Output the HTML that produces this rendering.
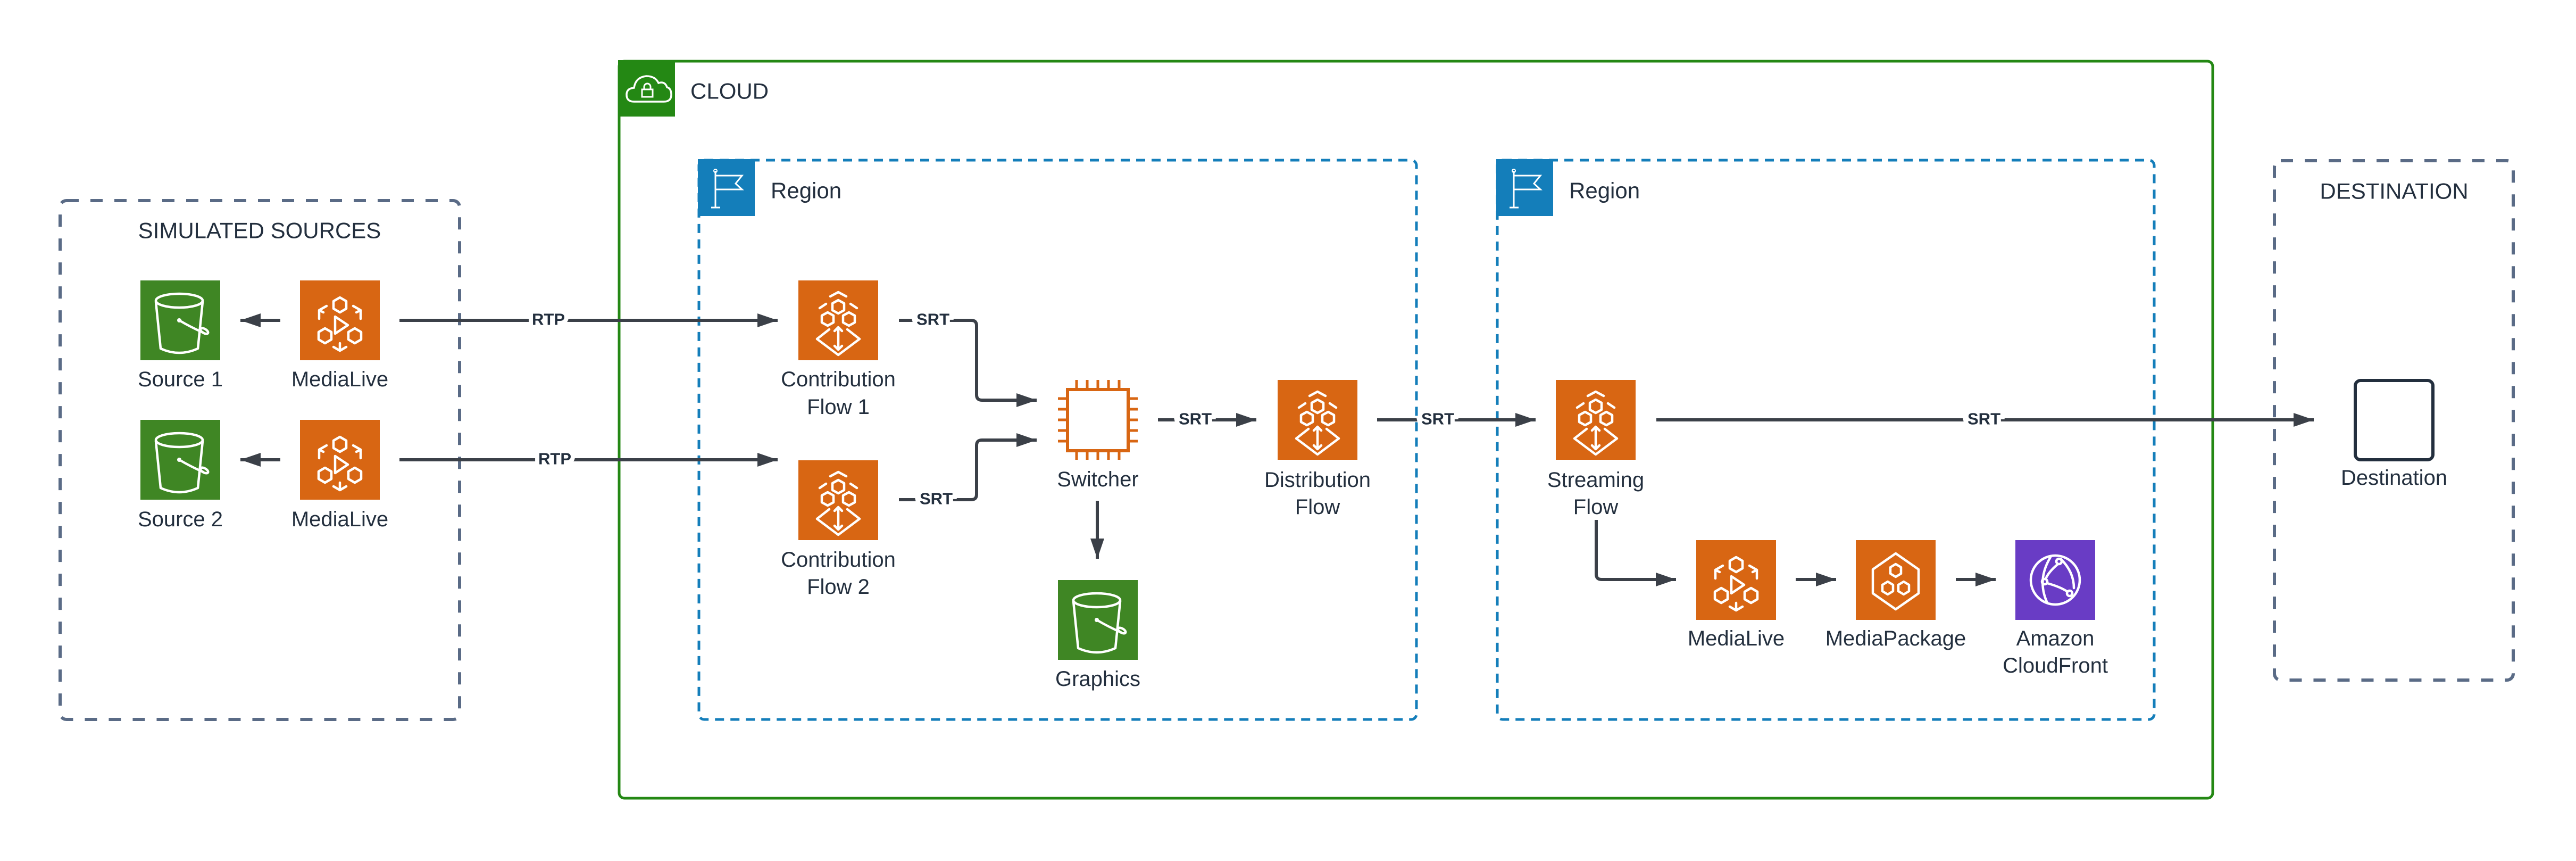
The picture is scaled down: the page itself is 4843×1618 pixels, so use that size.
<!DOCTYPE html>
<html><head><meta charset="utf-8"><style>
html,body{margin:0;padding:0;background:#fff;}
svg{display:block;}
text{font-family:"Liberation Sans",Arial,sans-serif;fill:#232F3E;}
.lbl{font-size:40px;text-anchor:middle;dominant-baseline:central;}
.el{font-size:31px;font-weight:bold;text-anchor:middle;dominant-baseline:central;fill:#232F3E;stroke:#fff;stroke-width:16px;paint-order:stroke;}
.ln{stroke:#3B4048;stroke-width:6;fill:none;stroke-linejoin:round;}
.w{fill:none;stroke:#fff;stroke-width:4.5;stroke-linejoin:round;stroke-linecap:round;}
</style></head><body>
<svg width="4843" height="1618" viewBox="0 0 4843 1618" xmlns="http://www.w3.org/2000/svg">
<defs>
<marker id="ah" markerWidth="40" markerHeight="26" refX="38" refY="13" orient="auto" markerUnits="userSpaceOnUse">
<path d="M0,0 L38,13 L0,26 Z" fill="#3B4048"/>
</marker>
<g id="bucket">
<rect width="150" height="150" fill="#3F8624"/>
<ellipse cx="73" cy="38" rx="44" ry="13" class="w"/>
<path d="M29,40 L38,128 Q73,144 108,128 L117,40" class="w"/>
<circle cx="73" cy="75" r="4" fill="#fff"/>
<path d="M73,75 Q95,88 118,98" class="w"/>
<ellipse cx="120" cy="95" rx="4" ry="8" transform="rotate(-60 120 95)" class="w"/>
</g>
<g id="medialive">
<rect width="150" height="150" fill="#D86613"/>
<path d="M75,32 l12,7 v14 l-12,7 l-12,-7 v-14z" class="w"/>
<path d="M47,90 l12,7 v14 l-12,7 l-12,-7 v-14z" class="w"/>
<path d="M103,90 l12,7 v14 l-12,7 l-12,-7 v-14z" class="w"/>
<path d="M66,68 L90,84 L66,100 Z" class="w"/>
<path d="M50,48 L36,56 V72 M36,56 L44,60" class="w"/>
<path d="M100,48 L114,56 V72 M114,56 L106,60" class="w"/>
<path d="M75,118 V132 M63,125 L75,132 L87,125" class="w"/>
</g>
<g id="mconnect">
<rect width="150" height="150" fill="#D86613"/>
<path d="M75,37 l11,6 v13 l-11,6 l-11,-6 v-13z" class="w"/>
<path d="M55,60 l11,6 v13 l-11,6 l-11,-6 v-13z" class="w"/>
<path d="M95,60 l11,6 v13 l-11,6 l-11,-6 v-13z" class="w"/>
<path d="M40,52 L52,44 M110,52 L98,44 M60,30 L75,22 L90,30" class="w"/>
<path d="M58,92 L35,110 L75,140 L115,110 L92,92" class="w"/>
<path d="M75,88 V130 M68,95 L75,88 L82,95 M68,123 L75,130 L82,123" class="w"/>
</g>
<g id="mpackage">
<rect width="150" height="150" fill="#D86613"/>
<path d="M75,25 L118,55 V100 L75,130 L32,100 V55 Z" class="w"/>
<path d="M75,45 l10,6 v12 l-10,6 l-10,-6 v-12z" class="w"/>
<path d="M60,78 l10,6 v12 l-10,6 l-10,-6 v-12z" class="w"/>
<path d="M90,78 l10,6 v12 l-10,6 l-10,-6 v-12z" class="w"/>
</g>
<g id="cfront">
<rect width="150" height="150" fill="#693CC5"/>
<circle cx="75" cy="75" r="46" class="w"/>
<circle cx="82" cy="40" r="5" class="w"/>
<circle cx="55" cy="78" r="5" class="w"/>
<circle cx="102" cy="100" r="5" class="w"/>
<path d="M80,45 Q62,60 57,73 M60,81 Q85,88 98,97 M66,32 Q40,75 60,118 M86,36 Q110,60 110,90" class="w" stroke-width="3.5"/>
</g>
</defs>

<!-- Simulated sources box -->
<rect x="113" y="377" width="751" height="975" rx="12" fill="none" stroke="#5A6B86" stroke-width="6" stroke-dasharray="23 22"/>
<text x="488" y="433" style="font-size:42px;text-anchor:middle;dominant-baseline:central">SIMULATED SOURCES</text>

<!-- Cloud -->
<rect x="1164" y="115" width="2996" height="1385" rx="10" fill="none" stroke="#248814" stroke-width="5"/>
<rect x="1162" y="113" width="107" height="106" fill="#248814"/>
<path d="M1192,191 Q1178,191 1178,178 Q1178,166 1192,165 Q1195,145 1215,143 Q1232,143 1238,156 Q1250,152 1254,164 Q1262,166 1262,178 Q1262,191 1248,191 Z" fill="none" stroke="#fff" stroke-width="3.5"/>
<rect x="1207" y="168" width="20" height="14" fill="none" stroke="#fff" stroke-width="3"/>
<path d="M1211,168 v-5 a6,6 0 0 1 12,0 v5" fill="none" stroke="#fff" stroke-width="3"/>
<text x="1298" y="171" style="font-size:42px;dominant-baseline:central">CLOUD</text>

<!-- Region 1 -->
<rect x="1314" y="301" width="1349" height="1051" rx="10" fill="none" stroke="#147EBA" stroke-width="5" stroke-dasharray="17 12"/>
<rect x="1312" y="299" width="107" height="107" fill="#147EBA"/>
<path d="M1345,321 V390 M1337,390 H1354 M1345,330 H1395 L1383,345 L1395,356 H1345" fill="none" stroke="#fff" stroke-width="3"/>
<circle cx="1345" cy="321" r="3" fill="none" stroke="#fff" stroke-width="2"/>
<text x="1449" y="358" style="font-size:42px;dominant-baseline:central">Region</text>

<!-- Region 2 -->
<rect x="2815" y="301" width="1235" height="1051" rx="10" fill="none" stroke="#147EBA" stroke-width="5" stroke-dasharray="17 12"/>
<rect x="2813" y="299" width="107" height="107" fill="#147EBA"/>
<path d="M2846,321 V390 M2838,390 H2855 M2846,330 H2896 L2884,345 L2896,356 H2846" fill="none" stroke="#fff" stroke-width="3"/>
<circle cx="2846" cy="321" r="3" fill="none" stroke="#fff" stroke-width="2"/>
<text x="2950" y="358" style="font-size:42px;dominant-baseline:central">Region</text>

<!-- Destination box -->
<rect x="4276" y="302" width="449" height="976" rx="12" fill="none" stroke="#5A6B86" stroke-width="6" stroke-dasharray="23 22"/>
<text x="4501" y="359" style="font-size:42px;text-anchor:middle;dominant-baseline:central">DESTINATION</text>
<rect x="4428" y="715" width="146" height="149" rx="10" fill="none" stroke="#232F3E" stroke-width="6"/>
<text class="lbl" x="4501" y="898">Destination</text>

<!-- Icons -->
<use href="#bucket" x="264" y="527"/>
<use href="#bucket" x="264" y="789"/>
<use href="#medialive" x="564" y="527"/>
<use href="#medialive" x="564" y="789"/>
<text class="lbl" x="339" y="713">Source 1</text>
<text class="lbl" x="639" y="713">MediaLive</text>
<text class="lbl" x="339" y="976">Source 2</text>
<text class="lbl" x="639" y="976">MediaLive</text>

<use href="#mconnect" x="1501" y="527"/>
<text class="lbl" x="1576" y="713">Contribution</text>
<text class="lbl" x="1576" y="765">Flow 1</text>
<use href="#mconnect" x="1501" y="865"/>
<text class="lbl" x="1576" y="1052">Contribution</text>
<text class="lbl" x="1576" y="1103">Flow 2</text>

<!-- Switcher chip -->
<rect x="2007" y="732" width="114" height="115" fill="#fff" stroke="#D86613" stroke-width="6"/>
<g stroke="#D86613" stroke-width="5">
<path d="M2024,714 V732 M2044,714 V732 M2064,714 V732 M2084,714 V732 M2104,714 V732"/>
<path d="M2024,847 V864 M2044,847 V864 M2064,847 V864 M2084,847 V864 M2104,847 V864"/>
<path d="M1989,749 H2007 M1989,769 H2007 M1989,789 H2007 M1989,809 H2007 M1989,829 H2007"/>
<path d="M2121,749 H2139 M2121,769 H2139 M2121,789 H2139 M2121,809 H2139 M2121,829 H2139"/>
</g>
<text class="lbl" x="2064" y="901">Switcher</text>

<use href="#bucket" x="1989" y="1090"/>
<text class="lbl" x="2064" y="1276">Graphics</text>

<use href="#mconnect" x="2402" y="714"/>
<text class="lbl" x="2477" y="902">Distribution</text>
<text class="lbl" x="2477" y="953">Flow</text>

<use href="#mconnect" x="2925" y="714"/>
<text class="lbl" x="3000" y="902">Streaming</text>
<text class="lbl" x="3000" y="953">Flow</text>

<use href="#medialive" x="3189" y="1015"/>
<text class="lbl" x="3264" y="1200">MediaLive</text>
<use href="#mpackage" x="3489" y="1015"/>
<text class="lbl" x="3564" y="1200">MediaPackage</text>
<use href="#cfront" x="3789" y="1015"/>
<text class="lbl" x="3864" y="1200">Amazon</text>
<text class="lbl" x="3864" y="1251">CloudFront</text>

<!-- Connectors -->
<path class="ln" d="M527,602 H452" marker-end="url(#ah)"/>
<path class="ln" d="M527,864 H452" marker-end="url(#ah)"/>
<path class="ln" d="M751,602 H1462" marker-end="url(#ah)"/>
<text class="el" x="1031" y="600">RTP</text>
<path class="ln" d="M751,864 H1462" marker-end="url(#ah)"/>
<text class="el" x="1043" y="862">RTP</text>

<path class="ln" d="M1690,602 H1826 Q1836,602 1836,612 V742 Q1836,752 1846,752 H1949" marker-end="url(#ah)"/>
<text class="el" x="1754" y="600">SRT</text>
<path class="ln" d="M1690,939 H1826 Q1836,939 1836,929 V837 Q1836,827 1846,827 H1949" marker-end="url(#ah)"/>
<text class="el" x="1760" y="937">SRT</text>

<path class="ln" d="M2177,789 H2362" marker-end="url(#ah)"/>
<text class="el" x="2247" y="787">SRT</text>
<path class="ln" d="M2063,941 V1050" marker-end="url(#ah)"/>

<path class="ln" d="M2589,789 H2887" marker-end="url(#ah)"/>
<text class="el" x="2703" y="787">SRT</text>
<path class="ln" d="M3114,789 H4350" marker-end="url(#ah)"/>
<text class="el" x="3730" y="787">SRT</text>

<path class="ln" d="M3001,977 V1079 Q3001,1089 3011,1089 H3151" marker-end="url(#ah)"/>
<path class="ln" d="M3376,1089 H3452" marker-end="url(#ah)"/>
<path class="ln" d="M3677,1089 H3752" marker-end="url(#ah)"/>
</svg>
</body></html>
